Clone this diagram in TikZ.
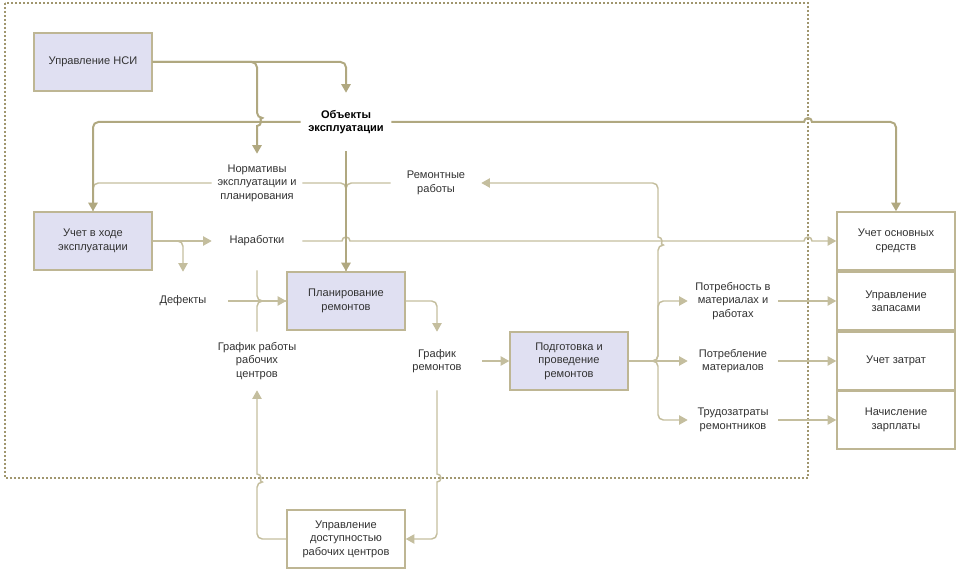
\documentclass[tikz,border=0pt]{standalone}
\usepackage{fontspec}
\setmainfont{Liberation Sans}
\usetikzlibrary{arrows.meta,calc}
\definecolor{linetan}{RGB}{176,168,128}
\definecolor{linelight}{RGB}{196,190,158}
\definecolor{framedot}{RGB}{160,150,110}
\definecolor{boxfill}{RGB}{224,224,242}
\definecolor{boxline}{RGB}{190,182,148}
\definecolor{txtgray}{RGB}{50,50,50}
\tikzset{
  >={Triangle[length=6.5pt,width=7pt]},
  procbox/.style={draw=boxline,line width=1.1pt,fill=boxfill,minimum width=88.5pt,
    minimum height=43.5pt,align=center,text=txtgray,inner sep=2pt},
  extbox/.style={procbox,fill=white},
  infolabel/.style={minimum width=67.5pt,minimum height=43.5pt,align=center,
    text=txtgray,inner sep=0pt},
  flowmain/.style={draw=linetan,line width=1.5pt},
  flowthin/.style={draw=linelight,line width=1.1pt},
  dotframe/.style={draw=framedot,line width=1.6pt,dash pattern=on 1.3pt off 1.7pt},
}
\begin{document}
\begin{tikzpicture}[x=0.75pt,y=-0.75pt,font=\fontsize{8.3pt}{10.1pt}\selectfont]
      \useasboundingbox (0,0) rectangle (960,573);
      \coordinate (frtl) at (5,3);
      \coordinate (frbr) at (808,478);
      \draw[dotframe] (frtl) rectangle (frbr);

      % boxes
      \node[procbox] (nsi) at (93,62) {Управление НСИ};
      \node[procbox] (uchet) at (93,241) {Учет в ходе\\эксплуатации};
      \node[procbox] (plan) at (346,301) {Планирование\\ремонтов};
      \node[procbox] (podg) at (569,361) {Подготовка и\\проведение\\ремонтов};
      \node[extbox] (uos) at (896,241) {Учет основных\\средств};
      \node[extbox] (zap) at (896,301) {Управление\\запасами};
      \node[extbox] (zatr) at (896,361) {Учет затрат};
      \node[extbox] (zarp) at (896,420) {Начисление\\зарплаты};
      \node[extbox] (dost) at (346,539) {Управление\\доступностью\\рабочих центров};

      % flow labels
      \node[infolabel,text=black,font=\fontsize{8.3pt}{10.1pt}\selectfont\bfseries]
        (obj) at (346,122) {Объекты\\эксплуатации};
      \node[infolabel] (norm) at (257,183) {Нормативы\\эксплуатации и\\планирования};
      \node[infolabel] (rem) at (436,183) {Ремонтные\\работы};
      \node[infolabel] (nar) at (257,241) {Наработки};
      \node[infolabel] (def) at (183,301) {Дефекты};
      \node[infolabel] (grw) at (257,361) {График работы\\рабочих\\центров};
      \node[infolabel] (grr) at (437,361) {График\\ремонтов};
      \node[infolabel] (potr) at (733,301) {Потребность в\\материалах и\\работах};
      \node[infolabel] (potreb) at (733,361) {Потребление\\материалов};
      \node[infolabel] (trud) at (733,420) {Трудозатраты\\ремонтников};
      \coordinate (split) at (658,361);

      % thin links
      \draw[flowthin,rounded corners=4pt] (norm.west) -| (uchet.north);
      \draw[flowthin,rounded corners=4pt] (norm.east) -| (plan.north);
      \draw[flowthin,rounded corners=4pt] (rem.west) -| (plan.north);
      \draw[flowthin,->] (uchet.east) -- (nar.west);
      \draw[flowthin,->,rounded corners=4pt] (uchet.east) -| (def.north);
      \draw[flowthin,->] (nar.east) -- ($(plan.north |- nar.east)+(-3pt,0)$)
        arc[start angle=180,end angle=0,radius=3pt]
        -- ($(frbr |- nar.east)+(-3pt,0)$)
        arc[start angle=180,end angle=0,radius=3pt] -- (uos.west);
      \draw[flowthin,rounded corners=4pt] (nar.south) |- (plan.west);
      \draw[flowthin,rounded corners=4pt] (grw.north) |- (plan.west);
      \draw[flowthin,->] (def.east) -- (plan.west);
      \draw[flowthin,->,rounded corners=4pt] (plan.east) -| (grr.north);
      \draw[flowthin,->] (grr.east) -- (podg.west);
      \draw[flowthin,->] (grr.south) -- ($(grr.south |- frbr)+(0,3pt)$)
        arc[start angle=90,end angle=-90,radius=3pt] [rounded corners=4pt] |- (dost.east);
      \draw[flowthin,->] (dost.west) [rounded corners=4pt] -| ($(grw.south |- frbr)+(0,-3pt)$)
        [sharp corners] arc[start angle=-90,end angle=90,radius=3pt] -- (grw.south);
      \draw[flowthin,->] (podg.east) [rounded corners=4pt] -- (split)
        -- ($(split |- nar.east)+(0,-3pt)$) [sharp corners]
        arc[start angle=-90,end angle=90,radius=3pt] [rounded corners=4pt] |- (rem.east);
      \draw[flowthin,->,rounded corners=4pt] (podg.east) -- (split) |- (potr.west);
      \draw[flowthin,->] (podg.east) -- (potreb.west);
      \draw[flowthin,->,rounded corners=4pt] (podg.east) -- (split) |- (trud.west);
      \draw[flowthin,->] (potr.east) -- (zap.west);
      \draw[flowthin,->] (potreb.east) -- (zatr.west);
      \draw[flowthin,->] (trud.east) -- (zarp.west);

      % main links
      \draw[flowmain,->,rounded corners=4pt] (nsi.east) -| (obj.north);
      \draw[flowmain,->] (nsi.east) [rounded corners=4pt] -| ($(norm.north |- obj.west)+(0,3pt)$)
        [sharp corners] arc[start angle=90,end angle=-90,radius=3pt] -- (norm.north);
      \draw[flowmain,->,rounded corners=4pt] (obj.west) -| (uchet.north);
      \draw[flowmain,->] (obj.east) -- ($(frbr |- obj.east)+(-3pt,0)$)
        arc[start angle=180,end angle=0,radius=3pt] [rounded corners=4pt] -| (uos.north);
      \draw[flowmain,->] (obj.south) -- (plan.north);
    \end{tikzpicture}
\end{document}
